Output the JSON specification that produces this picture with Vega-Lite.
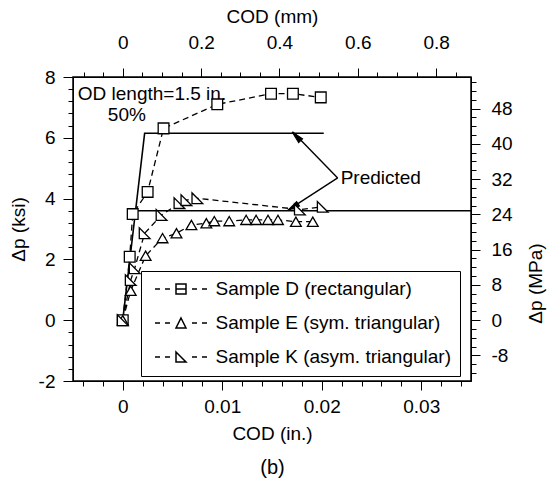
{
  "$schema": "https://vega.github.io/schema/vega-lite/v6.json",
  "width": 398,
  "height": 304,
  "autosize": {"type": "none"},
  "padding": {"left": 73, "top": 77, "right": 84, "bottom": 99},
  "config": {
    "font": "Liberation Sans",
    "view": {"stroke": "black", "strokeWidth": 1.5},
    "axis": {
      "labelFont": "Liberation Sans", "labelFontSize": 19, "labelColor": "black",
      "titleFont": "Liberation Sans", "titleFontSize": 19, "titleFontWeight": "normal", "titleColor": "black",
      "domainColor": "black", "tickColor": "black", "grid": false
    }
  },
  "datasets": {
    "obs": [
      {"sample": "Sample D (rectangular)", "cod": 0, "dp": 0},
      {"sample": "Sample D (rectangular)", "cod": 0.0007, "dp": 2.09},
      {"sample": "Sample D (rectangular)", "cod": 0.001, "dp": 3.49},
      {"sample": "Sample D (rectangular)", "cod": 0.0025, "dp": 4.22},
      {"sample": "Sample D (rectangular)", "cod": 0.0041, "dp": 6.31},
      {"sample": "Sample D (rectangular)", "cod": 0.0095, "dp": 7.1},
      {"sample": "Sample D (rectangular)", "cod": 0.0149, "dp": 7.45},
      {"sample": "Sample D (rectangular)", "cod": 0.0171, "dp": 7.45},
      {"sample": "Sample D (rectangular)", "cod": 0.0199, "dp": 7.33},
      {"sample": "Sample E (sym. triangular)", "cod": 0, "dp": 0},
      {"sample": "Sample E (sym. triangular)", "cod": 0.0008, "dp": 0.97},
      {"sample": "Sample E (sym. triangular)", "cod": 0.0023, "dp": 2.12},
      {"sample": "Sample E (sym. triangular)", "cod": 0.004, "dp": 2.7},
      {"sample": "Sample E (sym. triangular)", "cod": 0.0054, "dp": 2.86},
      {"sample": "Sample E (sym. triangular)", "cod": 0.0069, "dp": 3.13},
      {"sample": "Sample E (sym. triangular)", "cod": 0.0084, "dp": 3.19},
      {"sample": "Sample E (sym. triangular)", "cod": 0.0092, "dp": 3.26},
      {"sample": "Sample E (sym. triangular)", "cod": 0.0107, "dp": 3.26},
      {"sample": "Sample E (sym. triangular)", "cod": 0.0124, "dp": 3.3},
      {"sample": "Sample E (sym. triangular)", "cod": 0.0134, "dp": 3.3},
      {"sample": "Sample E (sym. triangular)", "cod": 0.0146, "dp": 3.3},
      {"sample": "Sample E (sym. triangular)", "cod": 0.0156, "dp": 3.3},
      {"sample": "Sample E (sym. triangular)", "cod": 0.0174, "dp": 3.24},
      {"sample": "Sample E (sym. triangular)", "cod": 0.0191, "dp": 3.24},
      {"sample": "Sample K (asym. triangular)", "cod": 0, "dp": 0},
      {"sample": "Sample K (asym. triangular)", "cod": 0.0008, "dp": 1.32},
      {"sample": "Sample K (asym. triangular)", "cod": 0.0012, "dp": 1.71},
      {"sample": "Sample K (asym. triangular)", "cod": 0.0022, "dp": 2.86},
      {"sample": "Sample K (asym. triangular)", "cod": 0.0039, "dp": 3.46},
      {"sample": "Sample K (asym. triangular)", "cod": 0.0057, "dp": 3.85},
      {"sample": "Sample K (asym. triangular)", "cod": 0.0064, "dp": 3.95},
      {"sample": "Sample K (asym. triangular)", "cod": 0.0075, "dp": 4.01},
      {"sample": "Sample K (asym. triangular)", "cod": 0.0178, "dp": 3.64},
      {"sample": "Sample K (asym. triangular)", "cod": 0.0201, "dp": 3.73}
    ],
    "predicted": [
      {"curve": "rectangular", "cod": 0, "dp": 0},
      {"curve": "rectangular", "cod": 0.0022, "dp": 6.15},
      {"curve": "rectangular", "cod": 0.0202, "dp": 6.15},
      {"curve": "triangular", "cod": 0.00129, "dp": 3.6},
      {"curve": "triangular", "cod": 0.035, "dp": 3.6}
    ],
    "arrows": [
      {"target": "rectangular", "cod": 0.0216, "dp": 4.68, "cod2": 0.0171, "dp2": 6.19},
      {"target": "triangular", "cod": 0.0216, "dp": 4.68, "cod2": 0.0166, "dp2": 3.62}
    ],
    "heads": [
      {"target": "rectangular", "cod": 0.01745, "dp": 6.05},
      {"target": "triangular", "cod": 0.01711, "dp": 3.72}
    ],
    "notes": [
      {"cod": -0.00452, "dp": 7.44, "text": "OD length=1.5 in."},
      {"cod": -0.0015, "dp": 6.75, "text": "50%"},
      {"cod": 0.0219, "dp": 4.68, "text": "Predicted"}
    ],
    "anchor": [{"cod": 0, "dp": 0, "mm": 0, "mpa": 0}]
  },
  "layer": [
    {
      "layer": [
        {
          "data": {"name": "obs"},
          "mark": {"type": "line", "stroke": "black", "strokeWidth": 1.3, "strokeDash": [6, 4]},
          "encoding": {
            "x": {"field": "cod", "type": "quantitative",
              "scale": {"domain": [-0.005, 0.035], "nice": false, "zero": false},
              "axis": {
                "title": "COD (in.)", "values": [0, 0.01, 0.02, 0.03], "labelExpr": "'' + datum.value",
                "tickSize": 9, "labelPadding": 7, "labelOverlap": false, "labelFlush": false,
                "titleY": 52, "titleBaseline": "middle"
              }},
            "y": {"field": "dp", "type": "quantitative",
              "scale": {"domain": [-2, 8], "nice": false, "zero": false},
              "axis": {
                "title": "Δp (ksi)", "values": [-2, 0, 2, 4, 6, 8], "labelExpr": "'' + datum.value",
                "tickSize": 10, "labelPadding": 8, "labelOverlap": false, "labelFlush": false,
                "titleX": -55, "titleBaseline": "middle", "titleAngle": 270
              }},
            "detail": {"field": "sample"}
          }
        },
        {
          "data": {"name": "predicted"},
          "mark": {"type": "line", "stroke": "black", "strokeWidth": 1.6},
          "encoding": {
            "x": {"field": "cod", "type": "quantitative"},
            "y": {"field": "dp", "type": "quantitative"},
            "detail": {"field": "curve"}
          }
        },
        {
          "data": {"name": "arrows"},
          "mark": {"type": "rule", "stroke": "black", "strokeWidth": 1.4},
          "encoding": {
            "x": {"field": "cod", "type": "quantitative"},
            "y": {"field": "dp", "type": "quantitative"},
            "x2": {"field": "cod2"},
            "y2": {"field": "dp2"}
          }
        },
        {
          "data": {"name": "heads"},
          "transform": [{"filter": "datum.target === 'rectangular'"}],
          "mark": {"type": "point", "shape": "M0,-1L0.45,1L-0.45,1Z", "filled": true, "fill": "black", "stroke": "black", "strokeWidth": 1, "size": 150, "angle": 316, "opacity": 1},
          "encoding": {
            "x": {"field": "cod", "type": "quantitative"},
            "y": {"field": "dp", "type": "quantitative"}
          }
        },
        {
          "data": {"name": "heads"},
          "transform": [{"filter": "datum.target === 'triangular'"}],
          "mark": {"type": "point", "shape": "M0,-1L0.45,1L-0.45,1Z", "filled": true, "fill": "black", "stroke": "black", "strokeWidth": 1, "size": 150, "angle": 237, "opacity": 1},
          "encoding": {
            "x": {"field": "cod", "type": "quantitative"},
            "y": {"field": "dp", "type": "quantitative"}
          }
        },
        {
          "data": {"name": "notes"},
          "mark": {"type": "text", "align": "left", "baseline": "middle", "font": "Liberation Sans", "fontSize": 19, "color": "black"},
          "encoding": {
            "x": {"field": "cod", "type": "quantitative"},
            "y": {"field": "dp", "type": "quantitative"},
            "text": {"field": "text"}
          }
        },
        {
          "data": {"name": "obs"},
          "mark": {"type": "point", "filled": true, "fill": "white", "stroke": "black", "strokeWidth": 1.3, "size": 115, "opacity": 1},
          "encoding": {
            "x": {"field": "cod", "type": "quantitative"},
            "y": {"field": "dp", "type": "quantitative"},
            "shape": {"field": "sample", "type": "nominal",
              "scale": {"domain": ["Sample D (rectangular)", "Sample E (sym. triangular)", "Sample K (asym. triangular)"],
                        "range": ["square", "triangle-up", "M-1,-1L-1,1L1,1Z"]},
              "legend": null}
          }
        },
        {
          "data": {"name": "obs"},
          "transform": [{"filter": "false"}],
          "mark": {"type": "point", "filled": true, "fill": "white", "stroke": "black", "strokeWidth": 1.2, "size": 100, "opacity": 1},
          "encoding": {
            "x": {"field": "cod", "type": "quantitative"},
            "y": {"field": "dp", "type": "quantitative"},
            "shape": {"field": "sample", "type": "nominal",
              "scale": {"domain": ["Sample D (rectangular)", "Sample E (sym. triangular)", "Sample K (asym. triangular)"],
                        "range": [
                          "M-5.2,0H-4.2M-3.2,0H-2.2M-1,-1H1V1H-1ZM-1,0H1M2.2,0H3.2M4.2,0H5.2",
                          "M-5.2,0H-4.2M-3.2,0H-2.2M0,-1L1,1H-1ZM2.2,0H3.2M4.2,0H5.2",
                          "M-5.2,0H-4.2M-3.2,0H-2.2M-1,-1L-1,1H1ZM2.2,0H3.2M4.2,0H5.2"]},
              "legend": {
                "title": null, "orient": "none", "legendX": 68, "legendY": 194,
                "padding": 8.5, "rowPadding": 14, "symbolSize": 100, "symbolOffset": 22, "labelOffset": 25,
                "labelFont": "Liberation Sans", "labelFontSize": 19, "labelColor": "black", "labelLimit": 0,
                "strokeColor": "black"
              }}
          }
        }
      ],
      "resolve": {"scale": {"shape": "independent"}}
    },
    {
      "data": {"name": "anchor"},
      "mark": {"type": "point", "opacity": 0},
      "encoding": {
        "x": {"field": "mm", "type": "quantitative",
          "scale": {"domain": [-0.127, 0.889], "nice": false, "zero": false},
          "axis": {
            "orient": "top", "title": "COD (mm)", "values": [0, 0.2, 0.4, 0.6, 0.8], "labelExpr": "'' + datum.value",
            "tickSize": 9, "labelPadding": 16, "labelOverlap": false, "labelFlush": false,
            "titleY": -61, "titleBaseline": "middle"
          }},
        "y": {"field": "mpa", "type": "quantitative",
          "scale": {"domain": [-13.79, 55.158], "nice": false, "zero": false},
          "axis": {
            "orient": "right", "title": "Δp (MPa)", "values": [-8, 0, 8, 16, 24, 32, 40, 48], "labelExpr": "'' + datum.value",
            "tickSize": 9, "labelPadding": 11, "labelOverlap": false, "labelFlush": false,
            "titleX": 64, "titleY": 206, "titleBaseline": "middle", "titleAngle": 270
          }}
      }
    },
    {
      "data": {"name": "anchor"},
      "mark": {"type": "point", "opacity": 0},
      "encoding": {
        "x": {"field": "cod", "type": "quantitative",
          "scale": {"domain": [-0.005, 0.035], "nice": false, "zero": false},
          "axis": {
            "title": "(b)", "titleFontSize": 20, "titleY": 86, "titleBaseline": "middle",
            "labels": false, "domain": false, "tickSize": 5, "tickCount": 100,
            "values": [-0.004, -0.002, 0.002, 0.004, 0.006, 0.008, 0.012, 0.014, 0.016, 0.018, 0.022, 0.024, 0.026, 0.028, 0.032, 0.034]
          }},
        "y": {"field": "dp", "type": "quantitative",
          "scale": {"domain": [-2, 8], "nice": false, "zero": false},
          "axis": {
            "title": null, "labels": false, "domain": false, "tickSize": 5, "tickCount": 100,
            "values": [-1.6, -1.2, -0.8, -0.4, 0.4, 0.8, 1.2, 1.6, 2.4, 2.8, 3.2, 3.6, 4.4, 4.8, 5.2, 5.6, 6.4, 6.8, 7.2, 7.6]
          }}
      }
    },
    {
      "data": {"name": "anchor"},
      "mark": {"type": "point", "opacity": 0},
      "encoding": {
        "x": {"field": "mm", "type": "quantitative",
          "scale": {"domain": [-0.127, 0.889], "nice": false, "zero": false},
          "axis": {
            "orient": "top", "title": null, "labels": false, "domain": false, "tickSize": 5, "tickCount": 100,
            "values": [-0.1, -0.05, 0.05, 0.1, 0.15, 0.25, 0.3, 0.35, 0.45, 0.5, 0.55, 0.65, 0.7, 0.75, 0.85]
          }},
        "y": {"field": "mpa", "type": "quantitative",
          "scale": {"domain": [-13.79, 55.158], "nice": false, "zero": false},
          "axis": {
            "orient": "right", "title": null, "labels": false, "domain": false, "tickSize": 5, "tickCount": 100,
            "values": [-12, -10, -6, -4, -2, 2, 4, 6, 10, 12, 14, 18, 20, 22, 26, 28, 30, 34, 36, 38, 42, 44, 46, 50, 52, 54]
          }}
      }
    }
  ],
  "resolve": {"scale": {"x": "independent", "y": "independent"}}
}
